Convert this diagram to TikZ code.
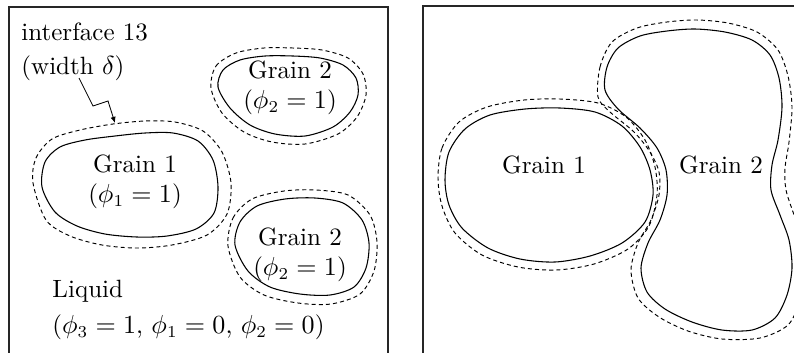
\documentclass[tikz,border=0pt]{standalone}
\usepackage{tikz}
\usetikzlibrary{arrows.meta,positioning}
\tikzset{
  frame/.style={line width=0.6pt, draw=black!85},
  grain/.style={line width=0.45pt},
  iface/.style={line width=0.4pt, dash pattern=on 1.7pt off 1.3pt},
  lbl/.style={inner sep=0pt, align=center, font=\fontsize{10.5}{12.6}\selectfont},
  arr/.style={-{Latex[length=2.6pt,width=2.2pt]}, line width=0.35pt},
}

\begin{document}
\begin{tikzpicture}[x=0.42pt, y=-0.42pt]
    \useasboundingbox (0,0) rectangle (794,352);
    \clip (0,0) rectangle (794,352);
    % frames
    \draw[frame] (9,7) rectangle (388,370);
    \draw[frame] (423,6) rectangle (820,370);

    % left panel: separate grains in the liquid
    \draw[grain] plot[smooth cycle] coordinates {(42,187) (45,162) (60,147) (85,140) (115,136) (145,133)
      (173,133) (198,141) (213,160) (218,187) (214,213) (196,229) (167,236) (137,237) (105,234) (77,226) (55,212)};
    \draw[iface] plot[smooth cycle] coordinates {(33,183) (36,158) (52,139) (80,130) (113,124) (145,121)
      (175,122) (203,131) (222,152) (231,183) (227,214) (207,235) (172,245) (137,248) (102,245) (70,236) (46,220)};
    \draw[grain] plot[smooth cycle] coordinates {(218,87) (223,70) (240,60) (265,56) (293,56) (320,58)
      (343,65) (356,78) (358,95) (350,112) (333,127) (305,136) (275,134) (250,125) (230,108)};
    \draw[iface] plot[smooth cycle] coordinates {(211,88) (216,66) (236,53) (264,48) (293,48) (322,50)
      (348,58) (363,74) (366,95) (357,117) (338,134) (305,144) (272,142) (244,132) (222,113)};
    \draw[grain] plot[smooth cycle] coordinates {(235,245) (240,222) (257,206) (285,199) (315,198) (343,203)
      (362,220) (369,243) (366,268) (354,287) (330,295) (300,294) (270,287) (248,271)};
    \draw[iface] plot[smooth cycle] coordinates {(228,246) (233,218) (252,199) (284,191) (316,190) (348,195)
      (370,215) (377,242) (374,271) (360,294) (331,304) (298,303) (264,295) (240,277)};

    \node[lbl, anchor=north west, align=left] (if) at (21,22) {interface 13\\[2pt](width $\delta$)};
    \coordinate (ifs) at (79,78);
    \coordinate (ift) at (115,123);
    \draw[arr] (ifs) -- (93,106) -- (108,101) -- (ift);

    \node[lbl] (g1) at (135,182) {Grain 1\\($\phi_1=1$)};
    \node[lbl] (g2a) at (290,88) {Grain 2\\($\phi_2=1$)};
    \node[lbl] (g2b) at (300,255) {Grain 2\\($\phi_2=1$)};
    \node[lbl, anchor=north west, align=left] (liq) at (52,280)
      {Liquid\\[2.5pt]($\phi_3=1$, $\phi_1=0$, $\phi_2=0$)};

    % right panel: two grains in contact
    \draw[grain] plot[smooth cycle] coordinates {(445,180) (449,152) (465,129) (490,115) (525,109) (560,108)
      (595,112) (622,126) (640,147) (650,170) (653,195) (645,222) (622,243) (590,256) (555,262) (520,259)
      (488,248) (462,228) (449,205)};
    \draw[iface] plot[smooth cycle] coordinates {(438,178) (442,148) (459,122) (487,107) (524,100) (560,99)
      (598,103) (626,117) (645,140) (655,167) (657,195) (649,226) (628,249) (594,264) (556,270) (518,267)
      (482,255) (455,233) (442,206)};
    \draw[grain] plot[smooth cycle] coordinates {(605,90) (607,67) (618,48) (640,36) (667,31) (695,29)
      (725,32) (752,40) (770,55) (779,78) (782,107) (778,140) (772,165) (771,190) (780,215) (789,240)
      (792,268) (787,295) (775,318) (752,330) (722,330) (692,322) (665,309) (647,292) (641,268) (648,243)
      (660,220) (667,195) (666,170) (657,148) (640,128) (618,109)};
    \draw[iface] plot[smooth cycle] coordinates {(598,97) (600,67) (612,42) (637,28) (667,22) (697,20)
      (728,23) (757,32) (778,50) (788,76) (792,107) (789,142) (785,168) (786,190) (794,215) (802,240)
      (806,268) (800,300) (788,325) (760,338) (722,339) (688,331) (659,317) (638,298) (631,270) (638,243)
      (651,220) (659,195) (659,172) (650,152) (634,132) (610,112)};

    \node[lbl] (g1r) at (544,165) {Grain 1};
    \node[lbl] (g2r) at (721,165) {Grain 2};
  \end{tikzpicture}
\end{document}
